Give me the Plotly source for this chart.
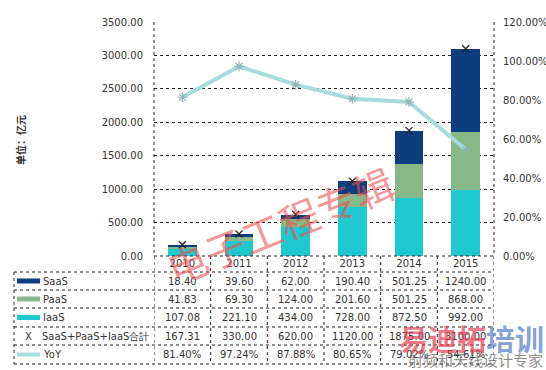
import plotly.graph_objects as go

years = ["2010", "2011", "2012", "2013", "2014", "2015"]
saas = [18.40, 39.60, 62.00, 190.40, 501.25, 1240.00]
paas = [41.83, 69.30, 124.00, 201.60, 501.25, 868.00]
iaas = [107.08, 221.10, 434.00, 728.00, 872.50, 992.00]
total = [167.31, 330.00, 620.00, 1120.00, 1875.00, 3100.00]
yoy = [81.40, 97.24, 87.88, 80.65, 79.02, 54.61]

row_names = ["SaaS", "PaaS", "IaaS", "SaaS+PaaS+IaaS合計", "YoY"]
y_title = "单位：亿元"

C_SAAS = "#0d3d7e"
C_PAAS = "#86b987"
C_IAAS = "#20c8cf"
C_YOY = "#a6dcdc"

W, H = 546, 370
L, R, T, B = 154, 494, 22, 256
pw, ph = R - L, B - T


def px_x(p):
    return (p - L) / pw


def px_y(p):
    return (B - p) / ph


FONT = "DejaVu Sans"
fig = go.Figure()
fig.add_trace(go.Bar(x=years, y=iaas, name=row_names[2], marker=dict(color=C_IAAS, line=dict(width=0))))
fig.add_trace(go.Bar(x=years, y=paas, name=row_names[1], marker=dict(color=C_PAAS, line=dict(width=0))))
fig.add_trace(go.Bar(x=years, y=saas, name=row_names[0], marker=dict(color=C_SAAS, line=dict(width=0))))
fig.add_trace(go.Scatter(x=years, y=total, mode="markers", name=row_names[3],
                         marker=dict(symbol="x-thin-open", size=7, color="#222",
                                     line=dict(color="#222", width=1.3))))
fig.add_trace(go.Scatter(x=years, y=[v / 100 for v in yoy], mode="lines+markers", yaxis="y2",
                         name=row_names[4], line=dict(color=C_YOY, width=4),
                         marker=dict(symbol="asterisk-open", size=8, color="#8fb5b5",
                                     line=dict(color="#8fb5b5", width=1.2))))

grid = dict(showgrid=True, gridcolor="#222", griddash="dot", gridwidth=1)
fig.update_layout(
    width=W, height=H, margin=dict(l=L, r=W - R, t=T, b=H - B, autoexpand=False),
    paper_bgcolor="white", plot_bgcolor="white", barmode="stack", bargap=0.49,
    showlegend=False, font=dict(family=FONT, size=10, color="#333"),
    xaxis=dict(type="category", showline=False, ticks="", tickfont=dict(size=10, color="#333"),
               range=[-0.5, 5.5], automargin=False),
    yaxis=dict(range=[0, 3500], dtick=500, tickformat=".2f", **grid, zeroline=False,
               showline=False, ticks="", automargin=False,
               ticklabelstandoff=10, tickfont=dict(size=10, color="#333")),
    yaxis2=dict(overlaying="y", side="right", range=[0, 1.2], dtick=0.2, tickformat=".2%",
                showgrid=False, zeroline=False, showline=False, ticks="", automargin=False,
                ticklabelstandoff=8, tickfont=dict(size=10, color="#333")),
)

shapes = []
dot = dict(color="#222", width=1, dash="dot")
# plot frame
for xp in (0, 1):
    shapes.append(dict(type="line", xref="paper", yref="paper", x0=xp, x1=xp, y0=1, y1=0, line=dot))
shapes.append(dict(type="line", xref="paper", yref="paper", x0=0, x1=1, y0=0, y1=0, line=dot))
# table
row_edges = [272, 290, 308, 327, 345, 364]
tbl_left = px_x(14)
for i in range(7):
    shapes.append(dict(type="line", xref="x", yref="paper", x0=i - 0.5, x1=i - 0.5,
                       y0=0, y1=px_y(364), line=dot))
shapes.append(dict(type="line", xref="paper", yref="paper", x0=tbl_left, x1=tbl_left,
                   y0=px_y(272), y1=px_y(364), line=dot))
for r in row_edges:
    shapes.append(dict(type="line", xref="paper", yref="paper", x0=tbl_left, x1=1,
                       y0=px_y(r), y1=px_y(r), line=dot))

annotations = []
series = [saas, paas, iaas, total]
for ri in range(5):
    yc = px_y((row_edges[ri] + row_edges[ri + 1]) / 2)
    vals = series[ri] if ri < 4 else yoy
    for ci, v in enumerate(vals):
        txt = f"{v:.2f}%" if ri == 4 else f"{v:.2f}"
        annotations.append(dict(x=ci, y=yc, xref="x", yref="paper", text=txt,
                                xanchor="center", yanchor="middle",
                                showarrow=False, font=dict(size=10, color="#333")))
    # legend labels
    tx = 41 if ri != 3 else 40
    annotations.append(dict(x=px_x(tx), y=yc, xref="paper", yref="paper", text=row_names[ri],
                            xanchor="left", yanchor="middle", showarrow=False,
                            font=dict(size=10, color="#333")))
    if ri < 3:
        col = [C_SAAS, C_PAAS, C_IAAS][ri]
        shapes.append(dict(type="rect", xref="paper", yref="paper", x0=px_x(17), x1=px_x(40),
                           y0=yc - 2.5 / ph, y1=yc + 2.5 / ph, fillcolor=col, line=dict(width=0)))
    elif ri == 3:
        annotations.append(dict(x=px_x(28), y=yc, xref="paper", yref="paper", text="X",
                                xanchor="center", yanchor="middle",
                                showarrow=False, font=dict(size=10, color="#333")))
    else:
        shapes.append(dict(type="line", xref="paper", yref="paper", x0=px_x(17), x1=px_x(40),
                           y0=yc, y1=yc, line=dict(color=C_YOY, width=4)))

annotations.append(dict(x=px_x(20), y=px_y(140), xref="paper", yref="paper", text="<b>" + y_title + "</b>",
                        textangle=-90, xanchor="center", yanchor="middle", showarrow=False,
                        font=dict(size=10, color="#333", family="Noto Sans CJK SC")))

# watermarks
annotations.append(dict(x=px_x(280), y=px_y(225), xref="paper", yref="paper",
                        text="电子工程专辑", xanchor="center", yanchor="middle",
                        textangle=-22, showarrow=False,
                        font=dict(size=40, color="rgba(240,80,80,0.6)", family="Noto Sans CJK SC")))
annotations.append(dict(x=px_x(546), y=px_y(338), xref="paper", yref="paper",
                        text="<b><span style='color:rgba(225,60,80,0.7)'>易迪拓</span><span style='color:rgba(60,110,190,0.65)'>培训</span></b>",
                        xanchor="right", yanchor="middle", showarrow=False,
                        font=dict(size=29, family="Noto Sans CJK SC")))
annotations.append(dict(x=px_x(545), y=px_y(359), xref="paper", yref="paper", text="射频和天线设计专家",
                        xanchor="right", yanchor="middle", showarrow=False,
                        font=dict(size=15, color="rgba(90,90,90,0.7)", family="Noto Sans CJK SC")))

fig.update_layout(shapes=shapes, annotations=annotations)
fig.write_html("out.html", config={"displayModeBar": False},
               post_script="document.body.style.margin='0';document.body.style.overflow='hidden';")
